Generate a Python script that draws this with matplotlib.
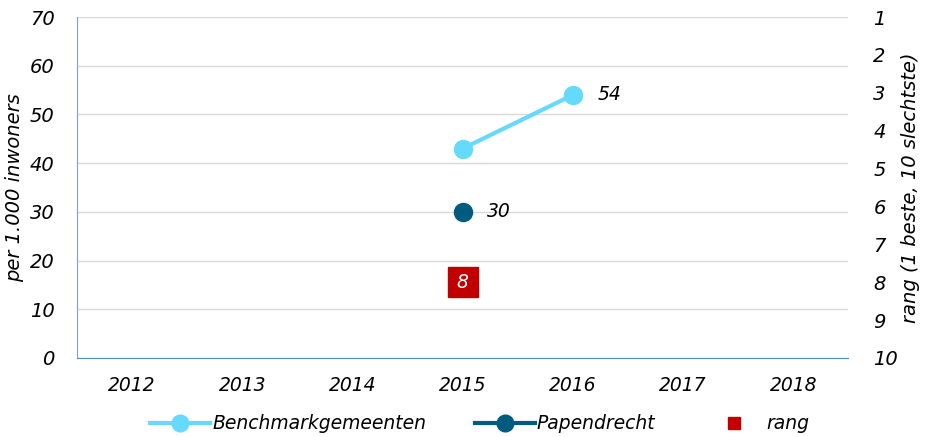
import numpy as np
import matplotlib.pyplot as plt
from matplotlib.lines import Line2D

years = ['2012', '2013', '2014', '2015', '2016', '2017', '2018']
bench_years = ['2015', '2016']
bench_vals = [43, 54]
pap_years = ['2015']
pap_vals = [30]
rang_years = ['2015']
rang_vals = [8]

light = '#66D9FF'
dark = '#005B7F'
red = '#C00000'

plt.rcParams['font.family'] = 'DejaVu Sans'
plt.rcParams['font.style'] = 'italic'

fig = plt.figure(figsize=(9.35, 4.37), dpi=100)
ax = fig.add_axes([0.0824, 0.181, 0.825, 0.780])
ax2 = ax.twinx()

xi = {y: i for i, y in enumerate(years)}

bx = [xi[y] for y in bench_years]
ax.plot(bx, bench_vals, color=light, lw=3, marker='o', ms=13, zorder=3)
px = [xi[y] for y in pap_years]
ax.plot(px, pap_vals, color=dark, lw=3, marker='o', ms=13, zorder=3)

ax.text(bx[-1] + 0.22, bench_vals[-1], str(bench_vals[-1]), va='center', ha='left', fontsize=13.5)
ax.text(px[-1] + 0.22, pap_vals[-1], str(pap_vals[-1]), va='center', ha='left', fontsize=13.5)

rx = [xi[y] for y in rang_years]
ax2.plot(rx, rang_vals, ls='none', marker='s', ms=21.5, color=red, zorder=3)
for x, v in zip(rx, rang_vals):
    ax2.text(x, v, str(v), color='white', ha='center', va='center', fontsize=13.5)

ax.set_xlim(-0.5, len(years) - 0.5)
ax.set_ylim(0, 70)
ax.set_yticks(range(0, 71, 10))
ax.set_xticks(range(len(years)))
ax.set_xticklabels(years)
ax2.set_ylim(10, 1)
ax2.set_yticks(range(1, 11))

ax.grid(axis='y', color='#D9D9D9', lw=1)
ax.set_axisbelow(True)
for a in (ax, ax2):
    a.tick_params(length=0, labelsize=14)
    for s in a.spines.values():
        s.set_visible(False)
ax.spines['left'].set_visible(True)
ax.spines['left'].set_color('#7F9FD0')
ax.spines['bottom'].set_visible(True)
ax.spines['bottom'].set_color('#4A90C8')
ax.tick_params(axis='x', labelsize=13.5, pad=13)
ax.tick_params(axis='y', pad=16)
ax2.tick_params(axis='y', pad=18)

ax.set_ylabel('per 1.000 inwoners', fontsize=14, labelpad=4)
ax2.set_ylabel('rang (1 beste, 10 slechtste)', fontsize=14, labelpad=2)

handles = [
    Line2D([], [], color=light, lw=3, marker='o', ms=12),
    Line2D([], [], color=dark, lw=3, marker='o', ms=12),
    Line2D([], [], color=red, ls='none', marker='s', ms=9),
]
fig.legend(handles, ['Benchmarkgemeenten', 'Papendrecht', 'rang'],
           loc='center', bbox_to_anchor=(0.513, 0.03), ncol=3, frameon=False,
           fontsize=13.5, handlelength=3.2, columnspacing=2.6, handletextpad=0.1)

fig.savefig('out.png', dpi=100)
